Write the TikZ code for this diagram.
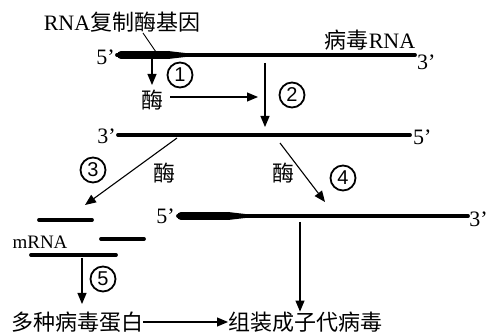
\documentclass[tikz,border=0pt]{standalone}
\usepackage{fontspec}
\setmainfont{Liberation Serif}
\newfontfamily\cjk{Noto Sans CJK SC}
\newfontfamily\lsans{Liberation Sans}
\usetikzlibrary{arrows.meta}
\begin{document}
\begin{tikzpicture}[x=1pt,y=-1pt,
  strand/.style={line width=3.8pt,line cap=round},
  gene/.style={line width=8pt,line cap=round},
  arr/.style={line width=1.1pt,-{Triangle[length=11pt,width=9pt]}},
  lab/.style={inner sep=0pt,font=\fontsize{22}{22}\selectfont},
  cj/.style={inner sep=0pt,font=\cjk\fontsize{22}{22}\selectfont},
  num/.style={circle,draw,line width=1.8pt,minimum size=25pt,inner sep=0pt,font=\lsans\fontsize{20}{20}\selectfont}]
\useasboundingbox (0,0) rectangle (488,334);
% strand 1
\coordinate (a1) at (117,55); \coordinate (a2) at (415,55);
\draw[strand] (a1) -- (a2);
\draw[gene] (121,55) -- (168,55);
\fill (168,51) -- (186,53.1) -- (186,56.9) -- (168,59) -- cycle;
\node[lab,anchor=east] (f1) at (115,57) {5’};
\node[lab,anchor=west] (t1) at (417,62) {3’};
\node[lab] (vrna) at (370,40) {{\cjk 病毒}RNA};
\node[lab] (genelab) at (122,22) {RNA{\cjk 复制酶基因}};
\coordinate (gl1) at (143,33); \coordinate (gl2) at (156,52);
\draw[line width=0.9pt] (gl1) -- (gl2);
% step 1
\coordinate (s1a) at (152,58); \coordinate (s1b) at (152,85);
\draw[arr] (s1a) -- (s1b);
\node[num] (n1) at (180,75) {1};
\node[cj] (enz1) at (152,100) {酶};
\coordinate (s2a) at (170,97); \coordinate (s2b) at (258,97);
\draw[arr] (s2a) -- (s2b);
\node[num] (n2) at (292,95) {2};
\coordinate (v2a) at (265,63); \coordinate (v2b) at (265,127);
\draw[arr] (v2a) -- (v2b);
% strand 2
\coordinate (b1) at (118,135); \coordinate (b2) at (410,135);
\draw[strand] (b1) -- (b2);
\node[lab,anchor=east] (t2) at (116,136) {3’};
\node[lab,anchor=west] (f2) at (413,137) {5’};
% step 3
\coordinate (s3a) at (177,138); \coordinate (s3b) at (85,205);
\draw[arr] (s3a) -- (s3b);
\node[num] (n3) at (93,170) {3};
\node[cj] (enz3) at (164,173) {酶};
% step 4
\coordinate (s4a) at (280,143); \coordinate (s4b) at (325,202);
\draw[arr] (s4a) -- (s4b);
\node[cj] (enz4) at (283,173) {酶};
\node[num] (n4) at (343,178) {4};
% strand 3
\coordinate (c1) at (178,216); \coordinate (c2) at (468,216);
\draw[strand] (c1) -- (c2);
\draw[gene] (181,216) -- (228,216);
\fill (228,212) -- (246,214.1) -- (246,217.9) -- (228,220) -- cycle;
\node[lab,anchor=east] (f3) at (175,216) {5’};
\node[lab,anchor=east] (t3) at (488,219) {3’};
% mRNA
\coordinate (m1a) at (39,220); \coordinate (m1b) at (92,220);
\coordinate (m2a) at (101,239); \coordinate (m2b) at (144,239);
\coordinate (m3a) at (31,255); \coordinate (m3b) at (116,255);
\draw[strand] (m1a) -- (m1b);
\draw[strand] (m2a) -- (m2b);
\draw[strand] (m3a) -- (m3b);
\node[lab,font=\fontsize{19}{19}\selectfont] (mrna) at (40,242) {mRNA};
% step 5
\coordinate (s5a) at (82,258); \coordinate (s5b) at (82,304);
\draw[arr] (s5a) -- (s5b);
\node[num] (n5) at (103,279) {5};
% bottom
\node[cj,anchor=west] (prot) at (11,322) {多种病毒蛋白};
\node[cj,anchor=west] (asm) at (228,322) {组装成子代病毒};
\draw[arr] (prot.east) -- (asm.west);
\coordinate (v3a) at (300,222);
\draw[arr] (v3a) -- (asm.north -| v3a);
\end{tikzpicture}
\end{document}
